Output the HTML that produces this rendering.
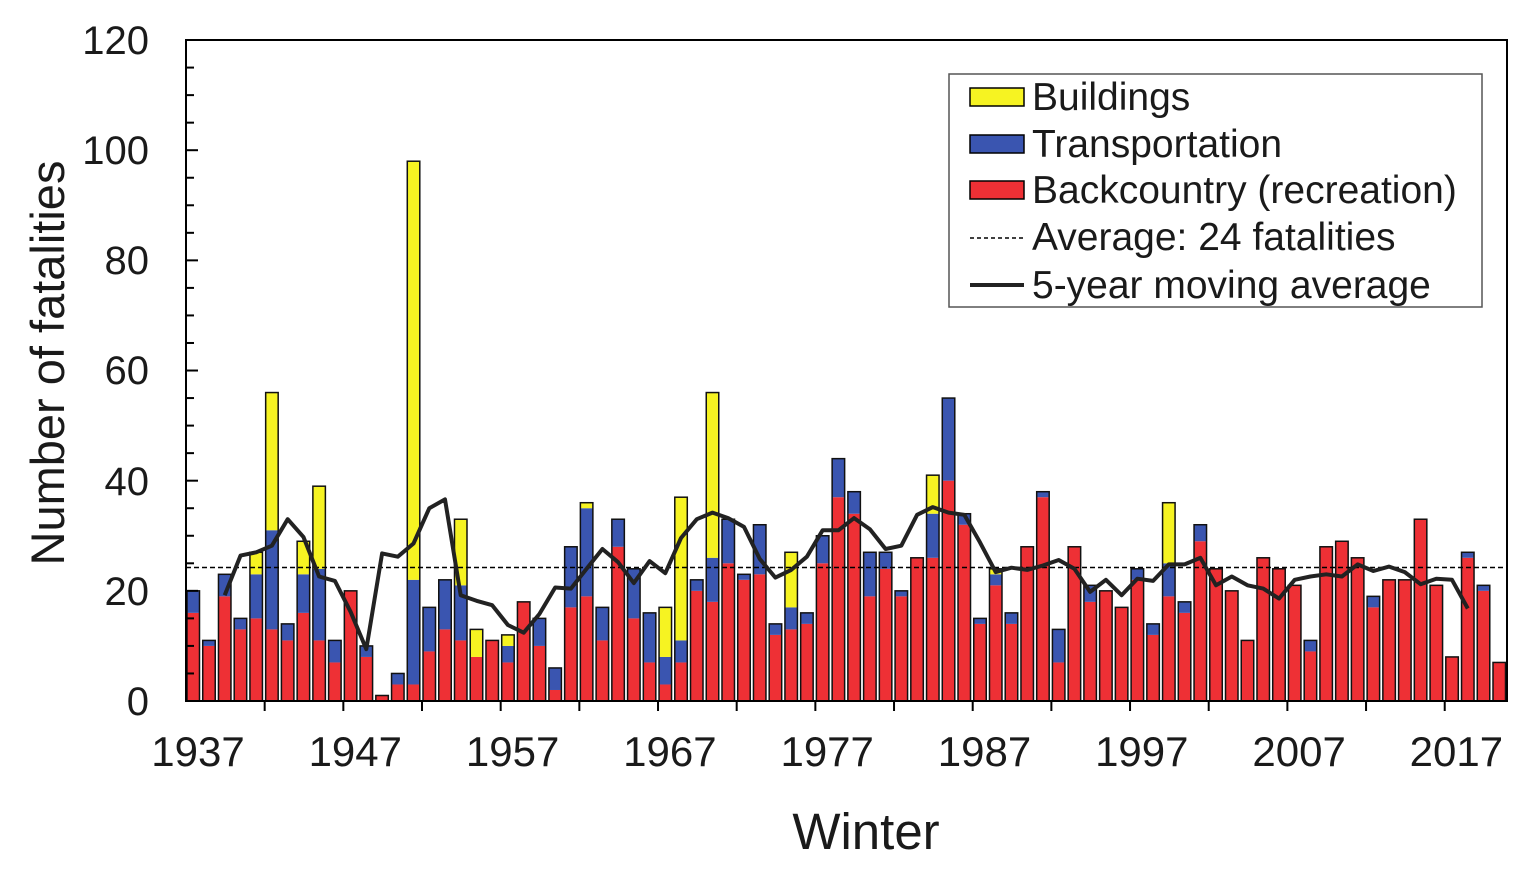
<!DOCTYPE html>
<html><head><meta charset="utf-8"><style>
html,body{margin:0;padding:0;background:#fff;}
svg{display:block;font-family:"Liberation Sans",Arial,sans-serif;}
</style></head><body>
<svg id="s" width="1535" height="879" viewBox="0 0 1535 879" xmlns="http://www.w3.org/2000/svg">
<rect width="1535" height="879" fill="#fff"/>
<g id="bars"></g>
<line x1="186" y1="567.5" x2="1507" y2="567.5" stroke="#000" stroke-width="1.5" stroke-dasharray="5,3"/>
<polyline id="ma" fill="none" stroke="#222" stroke-width="4" stroke-linejoin="round"/>
<rect x="186" y="40" width="1321" height="661" fill="none" stroke="#000" stroke-width="2"/>
<g id="ticks" stroke="#000" stroke-width="2"></g>
<g font-size="40" fill="#1a1a1a" text-anchor="end">
<text x="149" y="715">0</text><text x="149" y="605">20</text><text x="149" y="495">40</text>
<text x="149" y="384">60</text><text x="149" y="274">80</text><text x="149" y="164">100</text><text x="149" y="54">120</text>
</g>
<g id="xl" font-size="42" fill="#1a1a1a" text-anchor="middle"></g>
<text transform="translate(64,363) rotate(-90)" font-size="47" text-anchor="middle" fill="#1a1a1a">Number of fatalities</text>
<text x="866" y="849" font-size="51" text-anchor="middle" fill="#1a1a1a">Winter</text>
<g>
<rect x="949" y="74" width="533" height="233" fill="#fff" stroke="#555" stroke-width="1.5"/>
<rect x="970" y="88" width="54" height="18" fill="#f6f322" stroke="#000" stroke-width="1.5"/>
<rect x="970" y="135" width="54" height="18" fill="#3a55b0" stroke="#000" stroke-width="1.5"/>
<rect x="970" y="181" width="54" height="18" fill="#ee3035" stroke="#000" stroke-width="1.5"/>
<line x1="970" y1="238" x2="1024" y2="238" stroke="#000" stroke-width="1.5" stroke-dasharray="4,3"/>
<line x1="970" y1="285" x2="1024" y2="285" stroke="#222" stroke-width="4"/>
<g font-size="39" fill="#1a1a1a">
<text x="1032" y="110">Buildings</text>
<text x="1032" y="157">Transportation</text>
<text x="1032" y="203">Backcountry (recreation)</text>
<text x="1032" y="250">Average: 24 fatalities</text>
<text x="1032" y="298">5-year moving average</text>
</g></g>
</svg>
<script>
var D=[[16,4,0],[10,1,0],[19,4,0],[13,2,0],[15,8,4],[13,18,25],[11,3,0],[16,7,6],[11,13,15],[7,4,0],
[20,0,0],[8,2,0],[1,0,0],[3,2,0],[3,19,76],[9,8,0],[13,9,0],[11,10,12],[8,0,5],[11,0,0],
[7,3,2],[18,0,0],[10,5,0],[2,4,0],[17,11,0],[19,16,1],[11,6,0],[28,5,0],[15,9,0],[7,9,0],
[3,5,9],[7,4,26],[20,2,0],[18,8,30],[25,8,0],[22,1,0],[23,9,0],[12,2,0],[13,4,10],[14,2,0],
[25,5,0],[37,7,0],[34,4,0],[19,8,0],[24,3,0],[19,1,0],[26,0,0],[26,8,7],[40,15,0],[32,2,0],
[14,1,0],[21,2,1],[14,2,0],[28,0,0],[37,1,0],[7,6,0],[28,0,0],[18,3,0],[20,0,0],[17,0,0],
[22,2,0],[12,2,0],[19,6,11],[16,2,0],[29,3,0],[24,0,0],[20,0,0],[11,0,0],[26,0,0],[24,0,0],
[21,0,0],[9,2,0],[28,0,0],[29,0,0],[26,0,0],[17,2,0],[22,0,0],[22,0,0],[33,0,0],[21,0,0],
[8,0,0],[26,1,0],[20,1,0],[7,0,0]];
var NS="http://www.w3.org/2000/svg",k=5.508,B=701,P=15.735;
function el(t,a,p){var e=document.createElementNS(NS,t);for(var i in a)e.setAttribute(i,a[i]);p.appendChild(e);return e;}
var g=document.getElementById('bars');
var tot=D.map(function(d){return d[0]+d[1]+d[2];});
D.forEach(function(d,i){var x=187+i*P,y=B,c=['#ee3035','#3a55b0','#f6f322'];
for(var j=0;j<3;j++){if(!d[j])continue;var h=d[j]*k;y-=h;el('rect',{x:x,y:y,width:12.5,height:h,fill:c[j]},g);}
el('rect',{x:x,y:B-tot[i]*k,width:12.5,height:tot[i]*k,fill:'none',stroke:'#111','stroke-width':1.5},g);});
var pts=[];for(var i=2;i<D.length-2;i++){var s=0;for(var j=-2;j<=2;j++)s+=tot[i+j];pts.push((193.25+i*P).toFixed(1)+','+(B-s/5*k).toFixed(1));}
document.getElementById('ma').setAttribute('points',pts.join(' '));
var t=document.getElementById('ticks');
for(var v=5;v<120;v+=5){var y=B-v*k;el('line',{x1:186,y1:y,x2:v%20==0?198:194,y2:y},t);}
for(var q=1;q<17;q++){var x=186+q*78.67;el('line',{x1:x,y1:701,x2:x,y2:711},t);}
var xl=document.getElementById('xl');
for(var q=0;q<9;q++){var e=el('text',{x:198+q*157.3,y:766},xl);e.textContent=1937+10*q;}
</script>
</body></html>
